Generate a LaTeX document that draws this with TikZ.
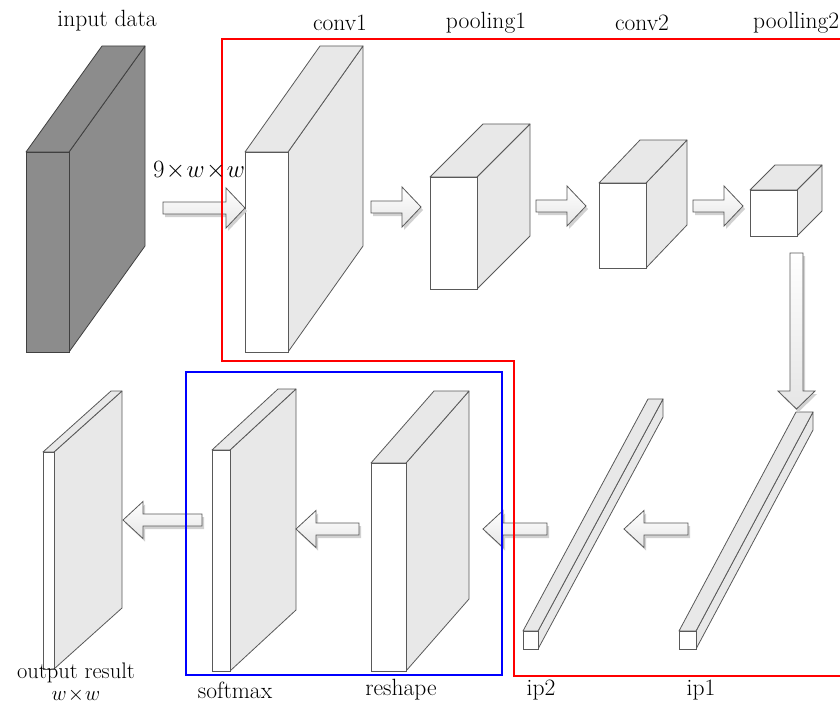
\documentclass[tikz,border=0pt]{standalone}
\usetikzlibrary{calc}
\tikzset{
  lightside/.style={fill=black!9, draw=black!65, line width=0.8pt, line join=round},
  lightfront/.style={fill=white, draw=black!65, line width=0.8pt},
  darkside/.style={fill=black!45, draw=black!75, line width=0.8pt, line join=round},
  darkfront/.style={fill=black!45, draw=black!75, line width=0.8pt},
  blockarrow/.style={top color=white, bottom color=black!10, draw=black!65, line width=0.8pt, line join=miter},
  arrowshadow/.style={fill=black!18, xshift=2pt, yshift=-3pt},
  lbl/.style={font=\fontsize{23.5}{26}\selectfont, inner sep=0pt},
  frame/.style={line width=2pt}
}
% #1 name, #2 x1, #3 y1 (front top-left), #4 x2, #5 y2 (front bottom-right), #6 dx, #7 dy, #8 light/dark
\newcommand\layerbox[8]{%
  \filldraw[#8side] (#4,#3) -- ({#4+#6},{#3+#7}) -- ({#4+#6},{#5+#7}) -- (#4,#5) -- cycle;
  \filldraw[#8side] (#2,#3) -- ({#2+#6},{#3+#7}) -- ({#4+#6},{#3+#7}) -- (#4,#3) -- cycle;
  \node[#8front, inner sep=0pt, outer sep=0pt, minimum width={(#4-#2)*1pt}, minimum height={(#5-#3)*1pt}] (#1) at ({(#2+#4)/2},{(#3+#5)/2}) {};
}
% right arrow: #1 start x, #2 tip x, #3 y
\newcommand\rarrow[3]{%
  \fill[arrowshadow] (#1,{#3-6}) -- ({#2-19},{#3-6}) -- ({#2-19},{#3-20}) -- (#2,#3) -- ({#2-19},{#3+20}) -- ({#2-19},{#3+6}) -- (#1,{#3+6}) -- cycle;
  \draw[blockarrow] (#1,{#3-6}) -- ({#2-19},{#3-6}) -- ({#2-19},{#3-20}) -- (#2,#3) -- ({#2-19},{#3+20}) -- ({#2-19},{#3+6}) -- (#1,{#3+6}) -- cycle;
}
% left arrow: #1 start x (right), #2 tip x (left), #3 y
\newcommand\larrow[3]{%
  \fill[arrowshadow] (#1,{#3-6}) -- ({#2+20},{#3-6}) -- ({#2+20},{#3-18.5}) -- (#2,#3) -- ({#2+20},{#3+18.5}) -- ({#2+20},{#3+6}) -- (#1,{#3+6}) -- cycle;
  \draw[blockarrow] (#1,{#3-6}) -- ({#2+20},{#3-6}) -- ({#2+20},{#3-18.5}) -- (#2,#3) -- ({#2+20},{#3+18.5}) -- ({#2+20},{#3+6}) -- (#1,{#3+6}) -- cycle;
}
\begin{document}
\begin{tikzpicture}[x=1pt,y=-1pt]
\useasboundingbox (0,0) rectangle (840,706);

% ---- top row
\layerbox{input}{26}{152}{69}{352}{76}{-106}{dark}
\layerbox{conv1}{245}{152}{288}{352}{75}{-106}{light}
\layerbox{pool1}{430}{177}{477}{289}{53}{-53}{light}
\layerbox{conv2}{599}{183}{646}{268}{41}{-43}{light}
\layerbox{pool2}{750}{190}{797}{236}{25}{-25}{light}

% ---- bottom row
\layerbox{output}{43}{452}{54}{669}{68}{-61}{light}
\layerbox{softmax}{212}{450}{230}{671}{66}{-61}{light}
\layerbox{reshape}{371}{463}{406}{671}{63}{-72}{light}
\layerbox{ip2}{523}{631}{538}{649}{125}{-232}{light}
\layerbox{ip1}{679}{631}{696}{649}{117}{-219}{light}

% ---- arrows
\rarrow{163}{245}{208}
\rarrow{371}{421}{207}
\rarrow{536}{586}{206}
\rarrow{693}{743}{206}
\fill[arrowshadow] (790,253) -- (790,391) -- (778,391) -- (796.5,409) -- (815,391) -- (803,391) -- (803,253) -- cycle;
\draw[blockarrow] (790,253) -- (790,391) -- (778,391) -- (796.5,409) -- (815,391) -- (803,391) -- (803,253) -- cycle;
\larrow{688}{624}{529}
\larrow{547}{483}{529}
\larrow{359}{296}{529}
\larrow{202}{123}{520}

% ---- frames
\draw[frame, blue] (186,372) rectangle (502,675);
\draw[frame, red] (850,39) -- (222,39) -- (222,361) -- (514,361) -- (514,676) -- (850,676);

% ---- labels
\node[lbl] (tInput) at (107,21) {input data};
\node[lbl] (tConv1) at (340,23) {conv1};
\node[lbl] (tPool1) at (486,23) {pooling1};
\node[lbl] (tConv2) at (642,23) {conv2};
\node[lbl, anchor=west] (tPool2) at (753,23) {poolling2};
\node[lbl] (tDim) at (199,171) {$9\!\times\! w\!\times\! w$};
\node[lbl, font=\fontsize{22.5}{22}\selectfont, align=center, anchor=north] (tOut) at (76,663) {output result\\$w\!\times\! w$};
\node[lbl] (tSoft) at (235,690) {softmax};
\node[lbl] (tResh) at (401,690) {reshape};
\node[lbl] (tIp2) at (541,690) {ip2};
\node[lbl] (tIp1) at (701,690) {ip1};
\end{tikzpicture}
\end{document}
